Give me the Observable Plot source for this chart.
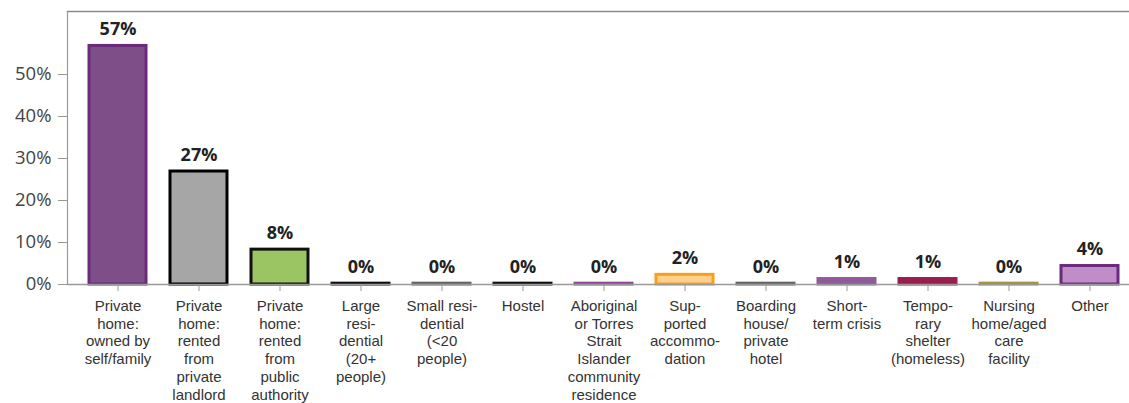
<!DOCTYPE html>
<html>
<head>
<meta charset="utf-8">
<script src="https://cdn.jsdelivr.net/npm/d3@7"></script>
<script src="https://cdn.jsdelivr.net/npm/@observablehq/plot@0.6"></script>
<style>
  html, body { margin: 0; padding: 0; background: #fff; overflow: hidden; }
</style>
</head>
<body>
<div id="chart"></div>
<script>
const categories = [
  "Private home: owned by self/family",
  "Private home: rented from private landlord",
  "Private home: rented from public authority",
  "Large residential (20+ people)",
  "Small residential (<20 people)",
  "Hostel",
  "Aboriginal or Torres Strait Islander community residence",
  "Supported accommodation",
  "Boarding house/private hotel",
  "Short-term crisis",
  "Temporary shelter (homeless)",
  "Nursing home/aged care facility",
  "Other"
];
const tickLabels = [
  "Private\nhome:\nowned by\nself/family",
  "Private\nhome:\nrented\nfrom\nprivate\nlandlord",
  "Private\nhome:\nrented\nfrom\npublic\nauthority",
  "Large\nresi-\ndential\n(20+\npeople)",
  "Small resi-\ndential\n(<20\npeople)",
  "Hostel",
  "Aboriginal\nor Torres\nStrait\nIslander\ncommunity\nresidence",
  "Sup-\nported\naccommo-\ndation",
  "Boarding\nhouse/\nprivate\nhotel",
  "Short-\nterm crisis",
  "Tempo-\nrary\nshelter\n(homeless)",
  "Nursing\nhome/aged\ncare\nfacility",
  "Other"
];
const values = [56.8, 26.9, 8.3, 0.2, 0.2, 0.2, 0.2, 2.3, 0.2, 1.3, 1.3, 0.2, 4.4];
const fills = ["#7e4e88", "#a6a6a6", "#9bc462", "#111111", "#666666", "#111111", "#944a96",
               "#fdd08f", "#666666", "#8f5a99", "#9b1c4e", "#a39340", "#c18dc9"];
const strokes = ["#6b2a7b", "#000000", "#111111", "#111111", "#666666", "#111111", "#944a96",
                 "#f9a01b", "#666666", "#8f5a99", "#9b1c4e", "#a39340", "#6b2a7b"];
const yTicks = [0, 10, 20, 30, 40, 50];

const data = categories.map((c, i) => ({
  cat: c, label: tickLabels[i], value: values[i], fill: fills[i], stroke: strokes[i]
}));
const labelOf = new Map(categories.map((c, i) => [c, tickLabels[i]]));

const chart = Plot.plot({
  width: 1129,
  height: 403,
  marginLeft: 67,
  marginRight: 0,
  marginTop: 11,
  marginBottom: 119,
  style: { background: "#fff" },
  x: { domain: categories, paddingInner: 0.3, paddingOuter: 0.2, align: 0.66, axis: null },
  y: { domain: [0, 65], axis: null },
  marks: [
    Plot.frame({ anchor: "top", stroke: "#8a8a8a", strokeWidth: 1.5 }),
    Plot.frame({ anchor: "left", stroke: "#9a9a9a", strokeWidth: 1.2 }),
    Plot.axisY({
      ticks: yTicks, tickFormat: d => d + "%", tickSize: 9, tickPadding: 7,
      stroke: "#999", fill: "#444", fontSize: 18.5, fontFamily: "Open Sans",
      label: null
    }),
    Plot.barY(data, {
      x: "cat", y: "value",
      fill: d => d.fill, stroke: d => d.stroke, strokeWidth: 3
    }),
    Plot.frame({ anchor: "bottom", stroke: "#999", strokeWidth: 1.5 }),
    Plot.axisX({
      tickSize: 7, tickPadding: 7, tickFormat: d => labelOf.get(d),
      stroke: "#999", fill: "#333", fontSize: 15, lineHeight: 1.18,
      fontFamily: "Liberation Sans, Arial, sans-serif", label: null
    }),
    Plot.text(data, {
      x: "cat", y: "value", text: d => Math.round(d.value) + "%",
      dy: -11, lineAnchor: "bottom", fontWeight: "bold", fontSize: 18,
      fontFamily: "Open Sans", fill: "#222"
    })
  ]
});
document.getElementById("chart").appendChild(chart);
</script>
</body>
</html>
